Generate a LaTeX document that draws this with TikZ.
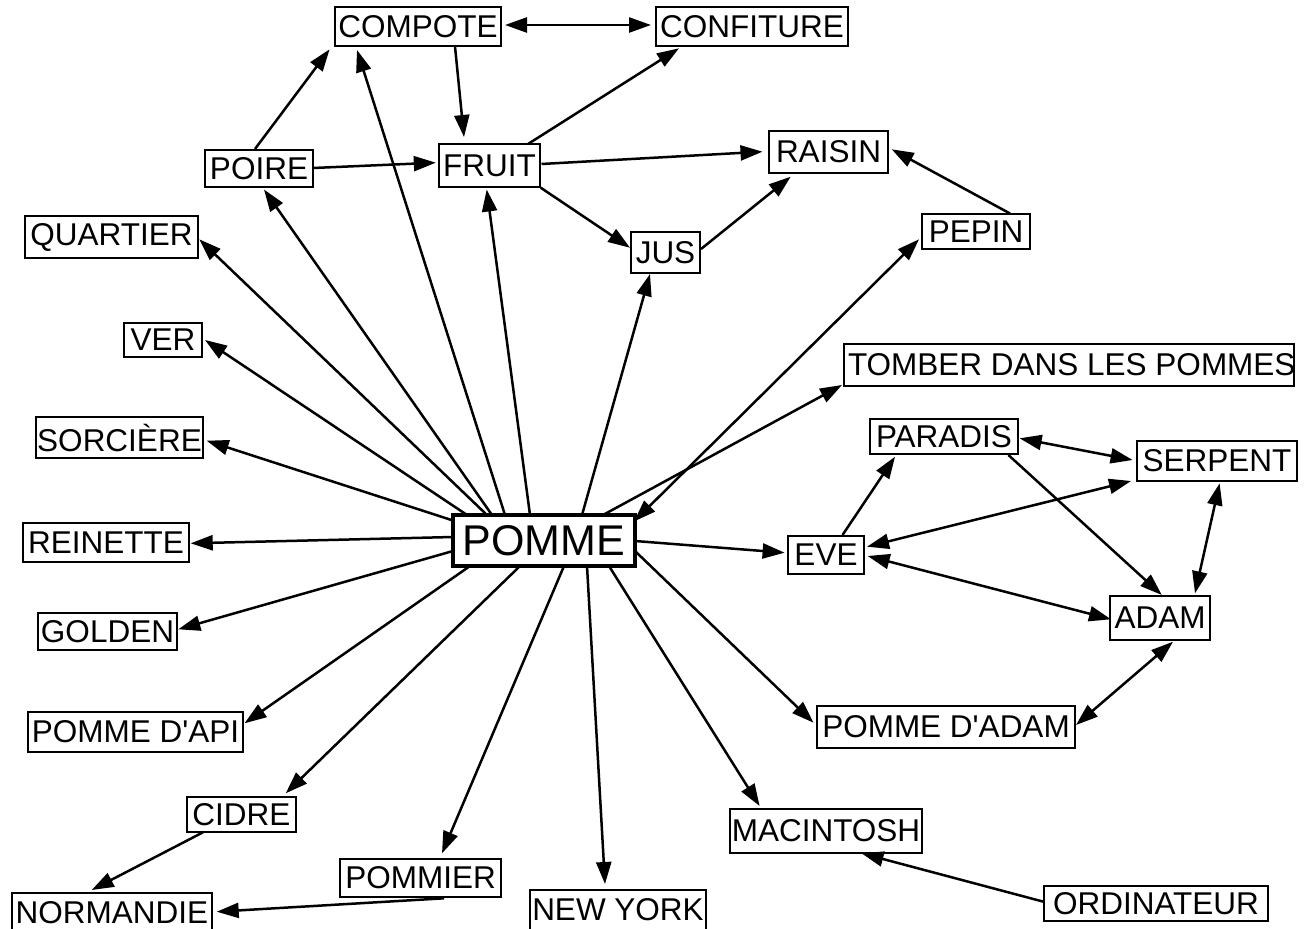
\documentclass[tikz,border=0pt]{standalone}
\usepackage{fontspec}
\setmainfont{Liberation Sans}
\usetikzlibrary{arrows.meta,calc}
\newcommand\myapos{\XeTeXglyph\XeTeXcharglyph"27\relax}
\begin{document}
\begin{tikzpicture}[x=1pt,y=-1pt,
  box/.style={draw, line width=1.5pt, inner sep=0pt, font=\fontsize{31.5}{31.5}\selectfont},
  bigbox/.style={draw, line width=4pt, inner sep=0pt, font=\fontsize{43}{43}\selectfont},
  edge/.style={line width=2.5pt, -{Triangle[length=22pt,width=15pt]}},
  bi/.style={line width=2.5pt, {Triangle[length=22pt,width=15pt]}-{Triangle[length=22pt,width=15pt]}}]
\useasboundingbox (0,0) rectangle (1305,928);
\fill[white] (0,0) rectangle (1305,928);

% nodes
\node[box, minimum width=166pt, minimum height=39pt] (compote) at (418,26.5) {COMPOTE};
\node[box, minimum width=192pt, minimum height=39pt] (confiture) at (752,26.5) {CONFITURE};
\node[box, minimum width=108pt, minimum height=37pt] (poire) at (259,168.5) {POIRE};
\node[box, minimum width=101pt, minimum height=43pt] (fruit) at (489.5,165.5) {FRUIT};
\node[box, minimum width=119pt, minimum height=42pt] (raisin) at (828.5,152) {RAISIN};
\node[box, minimum width=69pt, minimum height=41pt] (jus) at (665.5,252.5) {JUS};
\node[box, minimum width=108pt, minimum height=35pt] (pepin) at (976,231.5) {PEPIN};
\node[box, minimum width=173pt, minimum height=42pt] (quartier) at (111.5,237) {QUARTIER};
\node[box, minimum width=78pt, minimum height=34pt] (ver) at (163,340) {VER};
\node[box, minimum width=167pt, minimum height=41pt] (sorciere) at (119.5,437.5) {SORCIÈRE};
\node[box, minimum width=166pt, minimum height=39pt] (reinette) at (106,542.5) {REINETTE};
\node[box, minimum width=139pt, minimum height=37pt] (golden) at (107.5,631.5) {GOLDEN};
\node[bigbox, minimum width=182pt, minimum height=51pt] (pomme) at (544,540.5) {POMME};
\node[box, minimum width=450pt, minimum height=42pt] (tomber) at (1069,365) {\makebox[446pt][l]{\hspace{2pt}TOMBER DANS LES POMMES}};
\node[box, minimum width=148pt, minimum height=35pt] (paradis) at (944,436.5) {PARADIS};
\node[box, minimum width=160pt, minimum height=40pt] (serpent) at (1217,461) {SERPENT};
\node[box, minimum width=76pt, minimum height=38pt] (eve) at (826,555) {EVE};
\node[box, minimum width=100pt, minimum height=44pt] (adam) at (1160,618) {ADAM};
\node[box, minimum width=258pt, minimum height=42pt] (pommeadam) at (946,727) {POMME D\myapos ADAM};
\node[box, minimum width=215pt, minimum height=40pt] (pommeapi) at (135.5,732) {POMME D\myapos API};
\node[box, minimum width=109pt, minimum height=35pt] (cidre) at (241.5,814.5) {CIDRE};
\node[box, minimum width=161pt, minimum height=38pt] (pommier) at (420.5,878) {POMMIER};
\node[box, minimum width=200pt, minimum height=40pt] (normandie) at (112,913) {NORMANDIE};
\node[box, minimum width=176pt, minimum height=40pt] (newyork) at (618,910) {NEW YORK};
\node[box, minimum width=192pt, minimum height=44pt] (macintosh) at (826,831) {MACINTOSH};
\node[box, minimum width=224pt, minimum height=35pt] (ordinateur) at (1156,903.5) {ORDINATEUR};

% top cluster
\draw[bi] ($(compote)+(87,-1.5)$) -- ($(confiture)+(-101,-1.5)$);
\draw[edge] ($(compote)+(37,20)$) -- ($(fruit)+(-25.5,-28.5)$);
\draw[edge] ($(poire)+(-4,-19.5)$) -- ($(compote)+(-88.4,22.8)$);
\draw[edge] ($(poire)+(54,-0.5)$) -- ($(fruit)+(-53.7,-2.8)$);
\draw[edge] ($(fruit)+(38.5,-21.5)$) -- ($(confiture)+(-73,21.8)$);
\draw[edge] ($(fruit)+(52,-1.5)$) -- ($(raisin)+(-66,-0.3)$);
\draw[edge] ($(fruit)+(51.2,22.2)$) -- ($(jus)+(-35.5,-4.8)$);
\draw[edge] ($(jus)+(35.5,-3.5)$) -- ($(raisin)+(-37.8,24.7)$);
\draw[edge] ($(pepin)+(34,-18)$) -- ($(raisin)+(63.2,-2.7)$);

% from POMME
\draw[edge] ($(pomme)+(-39,-25.5)$) -- ($(compote)+(-61,23.5)$);
\draw[edge] ($(pomme)+(-52,-25.5)$) -- ($(poire)+(5,21)$);
\draw[edge] ($(pomme)+(-14,-25.5)$) -- ($(fruit)+(-2.8,24)$);
\draw[edge] ($(pomme)+(38,-25.5)$) -- ($(jus)+(-15.5,21.5)$);
\draw[bi] ($(pomme)+(90,-19)$) -- ($(pepin)+(-57,7.8)$);
\draw[edge] ($(pomme)+(59,-25.5)$) -- ($(tomber)+(-227,20)$);
\draw[edge] ($(pomme)+(-57,-25.5)$) -- ($(quartier)+(87.8,2.3)$);
\draw[edge] ($(pomme)+(-77,-25.5)$) -- ($(ver)+(42,0)$);
\draw[edge] ($(pomme)+(-91,-20)$) -- ($(sorciere)+(87.2,3.2)$);
\draw[edge] ($(pomme)+(-91,-3.5)$) -- ($(reinette)+(84.7,0.8)$);
\draw[edge] ($(pomme)+(-91,10.5)$) -- ($(golden)+(70.8,-2.2)$);
\draw[edge] ($(pomme)+(-74,25.5)$) -- ($(pommeapi)+(109,-8.7)$);
\draw[edge] ($(pomme)+(-24,25.5)$) -- ($(cidre)+(44.2,-21.2)$);
\draw[edge] ($(pomme)+(20,25.5)$) -- ($(pommier)+(21.5,-24.7)$);
\draw[edge] ($(pomme)+(43,25.5)$) -- ($(newyork)+(-13,-26)$);
\draw[edge] ($(pomme)+(65,25.5)$) -- ($(macintosh)+(-66.4,-25)$);
\draw[edge] ($(pomme)+(91,10.5)$) -- ($(pommeadam)+(-132.5,-4.3)$);
\draw[edge] ($(pomme)+(91,0.5)$) -- ($(eve)+(-41.4,-2.3)$);

% right cluster
\draw[edge] ($(eve)+(16.5,-20)$) -- ($(paradis)+(-49,20.2)$);
\draw[bi] ($(paradis)+(75.6,1.8)$) -- ($(serpent)+(-84.4,-1)$);
\draw[bi] ($(serpent)+(-86,20)$) -- ($(eve)+(41,-8.3)$);
\draw[bi] ($(eve)+(41.7,1)$) -- ($(adam)+(-49,1.3)$);
\draw[edge] ($(paradis)+(64.4,18.5)$) -- ($(adam)+(1.8,-23)$);
\draw[bi] ($(serpent)+(2.6,22.3)$) -- ($(adam)+(35,-24.7)$);
\draw[bi] ($(adam)+(13,23.7)$) -- ($(pommeadam)+(130,-2)$);

% bottom
\draw[edge] ($(cidre)+(-38.5,17.8)$) -- ($(normandie)+(-20.3,-23)$);
\draw[edge] ($(pommier)+(23.5,20.3)$) -- ($(normandie)+(104.7,-1.3)$);
\draw[edge] ($(ordinateur)+(-112.5,-1.8)$) -- ($(macintosh)+(35.5,22.3)$);
\end{tikzpicture}
\end{document}
